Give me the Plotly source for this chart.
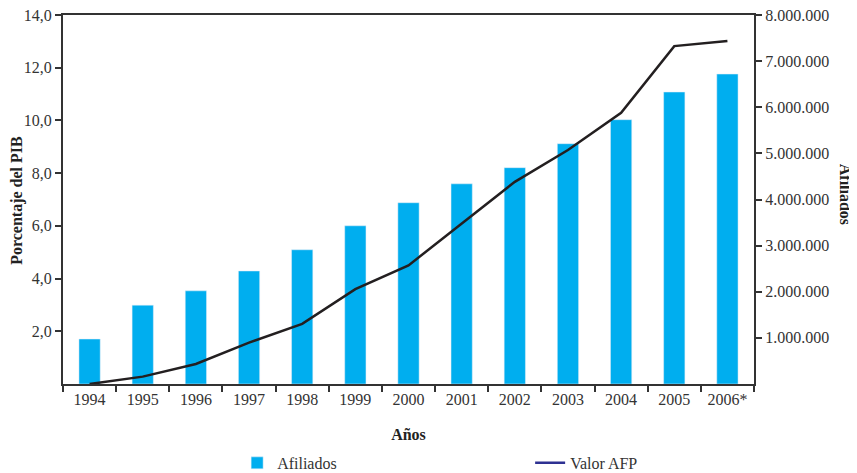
import plotly.graph_objects as go

years = ["1994", "1995", "1996", "1997", "1998", "1999", "2000",
         "2001", "2002", "2003", "2004", "2005", "2006*"]
afiliados = [975000, 1710000, 2020000, 2450000, 2910000, 3430000, 3930000,
             4340000, 4690000, 5210000, 5730000, 6330000, 6720000]
valor_afp_pib = [0.0, 0.28, 0.76, 1.57, 2.28, 3.6, 4.5,
                 6.1, 7.67, 8.88, 10.29, 12.82, 13.01]
left_ticks = [2, 4, 6, 8, 10, 12, 14]
right_ticks = [1000000, 2000000, 3000000, 4000000, 5000000, 6000000, 7000000, 8000000]

FONT = "Liberation Serif"
AX = "#333333"
TXT = "#333333"

fig = go.Figure()
fig.add_trace(go.Bar(x=years, y=afiliados, name="Afiliados", marker_color="#00AEEF",
                     width=0.4, yaxis="y"))
fig.add_trace(go.Scatter(x=years, y=valor_afp_pib, mode="lines", name="Valor AFP",
                         line=dict(color="#231f20", width=2.5), yaxis="y2",
                         showlegend=False))
fig.add_trace(go.Scatter(x=[None], y=[None], mode="lines", name="Valor AFP",
                         line=dict(color="#2e3192", width=2.5), yaxis="y2"))

fig.update_layout(
    width=857, height=473,
    margin=dict(l=55, r=111, t=7, b=97, autoexpand=False),
    plot_bgcolor="white", paper_bgcolor="white",
    separators=",.",
    font=dict(family=FONT, size=16, color=TXT),
    showlegend=True,
    legend=dict(orientation="h", x=0.252, y=-0.214, xanchor="left", yanchor="middle",
                entrywidth=248, entrywidthmode="pixels",
                font=dict(family=FONT, size=16, color=TXT)),
    xaxis=dict(type="category", showline=True, linecolor=AX, linewidth=2, mirror=True,
               ticks="outside", tickson="boundaries", ticklen=6, tickwidth=2, tickcolor=AX,
               showgrid=False, automargin=False, ticklabelstandoff=0,
               title=dict(text="<b>Años</b>", standoff=22,
                          font=dict(family=FONT, size=16, color="#222222"))),
    yaxis=dict(side="right", range=[0, 8000000], tickvals=right_ticks, tickformat=",d",
               showline=True, linecolor=AX, linewidth=2, ticks="outside", ticklen=6,
               tickwidth=2, tickcolor=AX, showgrid=False, zeroline=False,
               automargin=False, ticklabeloverflow="allow"),
    yaxis2=dict(side="left", overlaying="y", range=[0, 14], tickvals=left_ticks,
                tickformat=".1f", showline=True, linecolor=AX, linewidth=2,
                ticks="outside", ticklen=6, tickwidth=2, tickcolor=AX,
                showgrid=False, zeroline=False, automargin=False,
                ticklabeloverflow="allow"),
    annotations=[
        dict(text="<b>Porcentaje del PIB</b>", xref="paper", yref="paper",
             x=-0.0666, y=0.499, xanchor="center", yanchor="middle",
             textangle=-90, showarrow=False,
             font=dict(family=FONT, size=16, color="#222222")),
        dict(text="<b>Afiliados</b>", xref="paper", yref="paper",
             x=1.132, y=0.515, xanchor="center", yanchor="middle",
             textangle=90, showarrow=False,
             font=dict(family=FONT, size=16, color="#222222")),
    ],
)

fig.write_html("out.html")
